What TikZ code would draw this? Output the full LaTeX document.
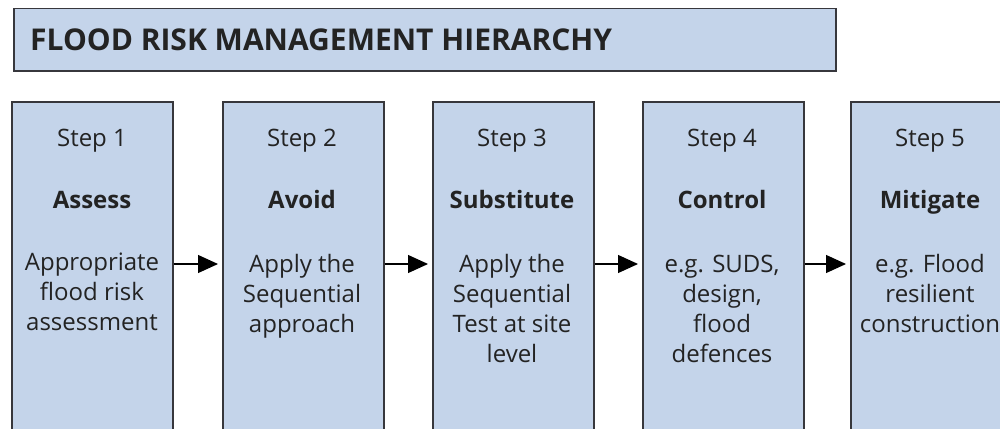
\documentclass[tikz,border=0pt]{standalone}
\usepackage{fontspec}
\setmainfont{Open Sans}
\usetikzlibrary{arrows.meta}
\definecolor{boxfill}{RGB}{196,212,234}
\definecolor{boxline}{RGB}{55,55,60}
\definecolor{txt}{RGB}{35,35,35}
\tikzset{
  x=1pt,y=-1pt,
  panel/.style={draw=boxline,line width=1.5pt,fill=boxfill,rectangle,inner sep=0pt,anchor=north west},
  stepbox/.style={panel,minimum width=161pt,minimum height=360pt},
  steplabel/.style={anchor=base,inner sep=0pt,text=txt,font=\fontsize{24}{30}\selectfont},
  stepname/.style={anchor=base,inner sep=0pt,text=txt,font=\fontsize{24}{30}\selectfont\bfseries},
  stepbody/.style={anchor=base,inner sep=0pt,text=txt,align=center,font=\fontsize{24}{30}\selectfont},
  flow/.style={line width=1.2pt,black,-{Triangle[length=20pt,width=18pt]},shorten >=4pt}
}
\begin{document}
\begin{tikzpicture}
\useasboundingbox (0,0) rectangle (1000,428);
\clip (0,0) rectangle (1000,428);
\node[panel,minimum width=822pt,minimum height=62pt] (title) at (13,8) {};
\node[anchor=base west,inner sep=0pt,text=txt,font=\fontsize{30}{36}\selectfont\bfseries] (titletext) at (30,50) {FLOOD RISK MANAGEMENT HIERARCHY};

\node[stepbox] (b1) at (11,101) {};
\node[stepbox] (b2) at (222,101) {};
\node[stepbox] (b3) at (432,101) {};
\node[stepbox] (b4) at (642,101) {};
\node[stepbox] (b5) at (850,101) {};

% body nodes: base anchor sits on the last line's baseline
\node[steplabel] (s1) at (92,146) {Step 1};
\node[stepname] (n1) at (92,208) {Assess};
\node[stepbody] (t1) at (92,330) {Appropriate\\flood risk\\assessment};

\node[steplabel] (s2) at (302,146) {Step 2};
\node[stepname] (n2) at (302,208) {Avoid};
\node[stepbody] (t2) at (302,332) {Apply the\\Sequential\\approach};

\node[steplabel] (s3) at (512,146) {Step 3};
\node[stepname] (n3) at (512,208) {Substitute};
\node[stepbody] (t3) at (512,362) {Apply the\\Sequential\\Test at site\\level};

\node[steplabel] (s4) at (722,146) {Step 4};
\node[stepname] (n4) at (722,208) {Control};
\node[stepbody] (t4) at (722,362) {e.g. SUDS,\\design,\\flood\\defences};

\node[steplabel] (s5) at (930,146) {Step 5};
\node[stepname] (n5) at (930,208) {Mitigate};
\node[stepbody] (t5) at (930,332) {e.g. Flood\\resilient\\construction};

\draw[flow] (b1.north east |- 0,264) -- (b2.north west |- 0,264);
\draw[flow] (b2.north east |- 0,264) -- (b3.north west |- 0,264);
\draw[flow] (b3.north east |- 0,264) -- (b4.north west |- 0,264);
\draw[flow] (b4.north east |- 0,264) -- (b5.north west |- 0,264);
\end{tikzpicture}
\end{document}
